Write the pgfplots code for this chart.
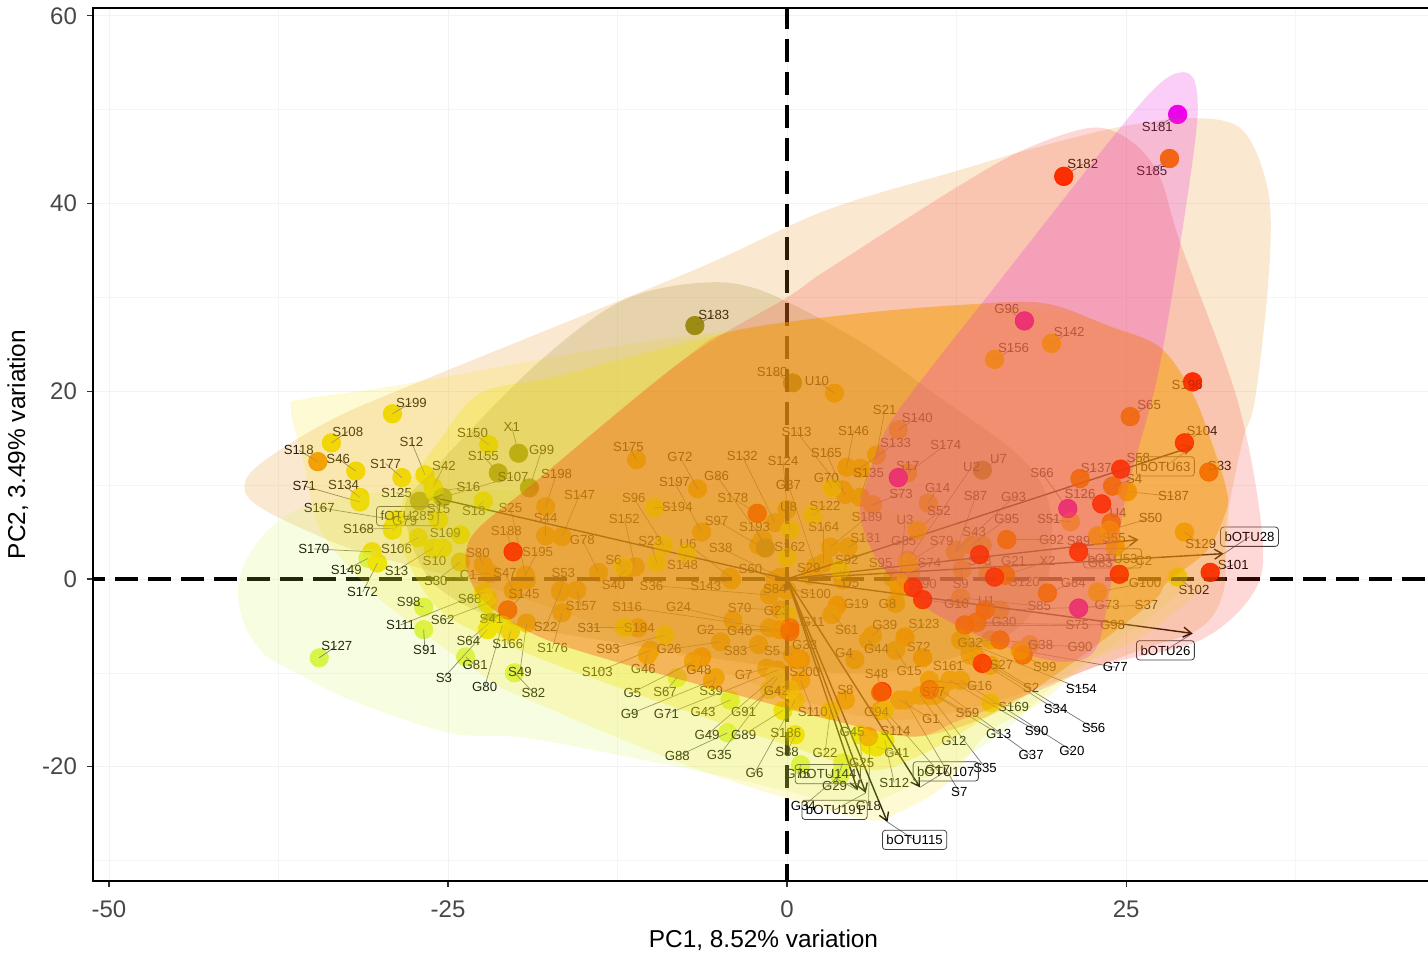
\documentclass[border=0pt]{standalone}
\usepackage{fontspec}
\setmainfont{Liberation Sans}
\usepackage{pgfplots}
\usepackage{pgfplotstable}
\pgfplotsset{compat=1.18}
\usetikzlibrary{arrows.meta}
\definecolor{cL}{HTML}{D9F54A}
\definecolor{cY}{HTML}{F2E200}
\definecolor{cA}{HTML}{F5BE00}
\definecolor{cO}{HTML}{F59A00}
\definecolor{cD}{HTML}{F56A00}
\definecolor{cR}{HTML}{FF2A00}
\definecolor{cP}{HTML}{EE1F82}
\definecolor{cM}{HTML}{EE00EE}
\definecolor{cV}{HTML}{8F8F10}
\definecolor{hPeach}{RGB}{235,140,20}
\definecolor{hLime}{RGB}{205,245,70}
\definecolor{hYel}{RGB}{245,230,40}
\definecolor{hTan}{RGB}{150,130,30}
\definecolor{hYe2}{RGB}{240,225,10}
\definecolor{hOra}{RGB}{245,125,0}
\definecolor{hRed}{RGB}{245,40,30}
\definecolor{hMag}{RGB}{230,30,220}
\pgfplotstableread{
name g x y lx ly
S199 Y -29.1 17.6 -27.7 18.8
S108 Y -33.6 14.5 -32.4 15.7
S118 O -34.6 12.5 -36.0 13.7
S46 Y -31.8 11.5 -33.1 12.8
S12 Y -26.7 11.1 -27.7 14.6
S177 Y -28.4 10.8 -29.6 12.3
S42 Y -26.1 9.8 -25.3 12.0
S71 Y -31.5 8.2 -35.6 9.9
S134 Y -31.5 8.7 -32.7 10.0
S125 V -27.1 8.3 -28.8 9.2
S16 Y -26.0 9.3 -23.5 9.8
S107 V -25.4 8.7 -20.2 10.9
S155 V -21.3 11.3 -22.4 13.1
S150 Y -22.0 14.3 -23.2 15.6
X1 V -19.8 13.4 -20.3 16.2
G99 V -19.0 9.7 -18.1 13.7
S198 A -17.8 7.7 -17.0 11.2
S15 Y -25.7 6.3 -25.7 7.5
S18 Y -22.4 8.3 -23.1 7.2
S25 A -19.2 -0.1 -20.4 7.6
S167 Y -28.9 6.3 -34.5 7.6
G79 Y -29.1 5.2 -28.2 6.2
S168 Y -29.1 5.4 -31.6 5.3
S109 Y -24.1 4.7 -25.2 4.9
S106 Y -27.2 4.4 -28.8 3.2
S170 Y -30.6 2.9 -34.9 3.2
S149 L -30.9 2.2 -32.5 1.0
S172 Y -30.2 1.7 -31.3 -1.4
S13 Y -26.1 3.3 -28.8 0.9
S10 Y -25.4 3.3 -26.0 1.9
S30 A -24.1 1.8 -25.9 -0.2
C1 A -21.9 0.6 -23.5 0.4
S47 A -20.2 -1.2 -20.8 0.6
S80 A -22.4 1.5 -22.8 2.8
S188 R -20.2 2.9 -20.7 5.1
S195 A -19.3 0.4 -18.4 2.9
S53 A -16.7 -1.4 -16.5 0.6
S145 D -20.6 -3.3 -19.4 -1.6
S68 Y -22.1 -2.0 -23.4 -2.1
S98 L -26.8 -3.0 -27.9 -2.5
S111 Y -22.4 -1.4 -28.5 -4.9
S91 L -26.8 -5.4 -26.7 -7.6
S62 Y -22.1 -2.6 -25.4 -4.4
S64 Y -21.9 -4.6 -23.5 -6.6
S41 V -21.8 -4.6 -21.8 -4.3
G81 L -23.7 -8.3 -23.0 -9.2
S3 Y -22.1 -5.4 -25.3 -10.5
G80 Y -21.0 -4.9 -22.3 -11.5
S166 A -20.4 -5.6 -20.6 -6.9
S127 L -34.5 -8.4 -33.2 -7.1
S49 A -19.2 -4.7 -19.7 -9.9
S82 L -20.1 -10.0 -18.7 -12.1
S22 A -16.7 -1.2 -17.8 -5.1
S176 A -16.6 -3.6 -17.3 -7.4
S157 A -15.5 -1.2 -15.2 -2.9
S44 A -17.8 4.6 -17.8 6.5
S147 A -16.6 4.5 -15.3 9.0
S175 A -11.1 12.7 -11.7 14.1
G72 A -6.6 9.6 -7.9 13.0
S197 A -6.3 5.0 -8.3 10.3
S194 Y -9.8 7.6 -8.1 7.7
S96 Y -9.1 3.6 -11.3 8.6
S152 A -11.2 1.3 -12.0 6.4
G78 A -13.9 0.7 -15.1 4.2
S23 Y -9.6 1.7 -10.1 4.0
S6 Y -12.1 1.3 -12.8 2.0
S40 A -11.9 1.0 -12.8 -0.6
S36 A -1.3 -1.7 -10.0 -0.7
S143 A -4.1 -0.1 -6.0 -0.7
S148 Y -7.4 2.8 -7.7 1.5
U6 A -4.2 0.2 -7.3 3.7
S97 A -2.1 3.6 -5.2 6.2
S38 A -0.5 0.2 -4.9 3.3
S60 A -0.9 -0.1 -2.7 1.1
G86 A -1.8 4.2 -5.2 11.0
S132 A -0.9 6.0 -3.3 13.1
S178 D -2.2 7.0 -4.0 8.6
S193 V -1.6 3.3 -2.4 5.5
S162 Y 0.0 2.3 0.2 3.4
S124 A 0.0 7.4 -0.3 12.6
S113 A 4.3 9.0 0.7 15.7
S180 V 0.4 20.9 -1.1 22.1
U10 A 3.5 19.8 2.2 21.1
S21 A 6.6 13.2 7.2 18.0
S146 A 4.4 11.9 4.9 15.8
S140 A 8.2 15.9 9.6 17.2
S133 A 5.4 11.8 8.0 14.5
S174 A 8.9 11.3 11.7 14.3
S165 A 4.1 9.5 2.9 13.4
S135 A 5.4 8.7 6.0 11.3
S17 P 8.2 10.8 8.9 12.0
G70 Y 3.3 9.7 2.9 10.8
S73 A 6.3 7.9 8.4 9.1
S122 Y 1.9 6.8 2.8 7.8
G87 A 2.1 1.3 0.1 10.0
U8 Y 0.2 5.2 0.1 7.7
S164 A 2.7 1.7 2.7 5.5
S189 A 3.2 3.4 5.9 6.6
S131 A 4.5 3.4 5.8 4.4
S92 A 4.1 -0.1 4.4 2.0
S29 A 1.7 0.4 1.6 1.2
G85 O 8.3 -0.9 8.6 4.0
U3 O 8.3 -0.4 8.7 6.3
G14 A 10.4 8.1 11.1 9.7
S52 O 9.6 5.2 11.2 7.2
S79 O 8.9 1.7 11.4 4.0
S95 A 7.8 0.1 6.9 1.7
S74 A 9.1 0.6 10.5 1.7
S190 R 9.3 -0.9 9.9 -0.5
S87 A 12.5 3.1 13.9 8.8
G93 A 12.4 2.9 16.7 8.7
G95 A 13.6 3.6 16.2 6.4
S43 A 14.4 3.6 13.8 5.0
U2 A 8.9 2.0 13.6 11.9
U7 V 14.4 11.6 15.6 12.8
G92 D 16.2 4.2 19.5 4.2
S78 R 14.2 2.6 14.2 1.9
G21 A 14.8 0.6 16.7 1.9
X2 D 16.1 0.4 19.2 1.9
S9 A 12.9 1.0 12.8 -0.5
S120 R 15.3 0.2 17.5 -0.3
U5 Y 3.9 1.0 4.7 -0.4
S84 A 0.0 -1.2 -0.9 -1.1
S100 A -0.5 -0.9 2.1 -1.6
G19 O 3.7 -2.8 5.1 -2.7
G8 A 8.0 -2.6 7.4 -2.7
G10 R 10.0 -2.2 12.5 -2.7
U1 D 14.6 -3.3 14.7 -2.3
S85 A 12.8 -2.0 18.6 -2.9
G23 Y 0.0 -3.8 -0.8 -3.4
S70 A -0.5 -3.3 -3.5 -3.1
G24 A -4.0 -4.4 -8.0 -3.0
S116 A -1.3 -5.2 -11.8 -3.0
G11 D 0.2 -5.2 1.9 -4.6
S184 A -11.0 -5.2 -10.9 -5.2
S31 Y -12.0 -5.2 -14.6 -5.2
G2 O -0.5 -5.4 -6.0 -5.4
G40 D 0.2 -5.6 -3.5 -5.5
S61 A 3.3 -3.8 4.4 -5.4
G39 A 6.3 -6.0 7.2 -4.9
S123 O 8.7 -6.2 10.1 -4.8
G30 D 14.0 -4.6 16.0 -4.6
S75 D 13.1 -4.9 21.4 -4.9
G98 A 13.9 -4.7 24.0 -4.9
G73 P 21.5 -3.1 23.6 -2.8
G84 D 19.2 -1.5 21.1 -0.4
G100 O 22.9 -1.4 26.4 -0.4
S37 A 15.7 -3.3 26.5 -2.8
S89 R 21.5 2.9 21.5 4.0
S55 O 22.9 4.6 24.1 4.4
G83 O 24.2 3.4 23.1 1.7
C2 R 24.5 0.5 26.3 1.9
S66 P 20.7 7.5 18.8 11.3
S51 A 20.9 6.1 19.3 6.4
S126 R 23.2 8.0 21.6 9.1
U4 D 23.9 6.0 24.4 7.0
S50 O 23.8 5.2 26.8 6.5
S137 D 21.6 10.7 22.8 11.8
S4 D 24.0 9.9 25.6 10.7
S58 R 24.6 11.7 25.9 12.9
S187 O 25.1 9.3 28.5 8.8
S65 D 25.3 17.3 26.7 18.5
S104 R 29.3 14.5 30.6 15.8
S33 D 31.1 11.4 31.9 12.0
S129 A 29.3 5.0 30.5 3.7
S101 R 31.2 0.7 32.9 1.5
S102 Y 28.8 0.2 30.0 -1.2
S196 R 29.9 21.0 29.5 20.7
S181 M 28.8 49.5 27.3 48.2
S185 D 28.2 44.8 26.9 43.5
S182 R 20.4 42.9 21.8 44.2
G96 P 17.5 27.5 16.2 28.8
S142 O 19.5 25.1 20.8 26.3
S156 O 15.3 23.4 16.7 24.6
S183 V -6.8 27.0 -5.4 28.1
S5 A 0.4 -8.1 -1.1 -7.7
S83 A -2.1 -7.0 -3.8 -7.7
G26 A -4.9 -6.7 -8.7 -7.5
S93 Y -9.0 -6.0 -13.2 -7.5
G48 O -6.3 -8.3 -6.5 -9.7
G46 A -10.3 -8.1 -10.6 -9.6
S103 A -10.1 -7.6 -14.0 -9.9
G7 A -1.5 -9.5 -3.2 -10.2
S39 A -5.3 -10.5 -5.6 -11.9
G5 A -6.9 -8.8 -11.4 -12.1
S67 L -8.1 -10.5 -9.0 -12.0
G42 Y 0.2 -11.8 -0.8 -11.9
G9 A -5.5 -10.8 -11.6 -14.4
G71 A -0.7 -9.7 -8.9 -14.4
G43 L -4.2 -12.9 -6.2 -14.2
G91 L -1.3 -11.8 -3.2 -14.2
S110 A 1.0 -10.8 1.9 -14.2
G49 L -0.9 -10.4 -5.9 -16.6
G89 Y -0.3 -14.0 -3.2 -16.6
S186 A -0.1 -11.8 -0.1 -16.4
G88 L -4.4 -16.4 -8.1 -18.9
G35 L -0.7 -10.5 -5.0 -18.8
S88 Y 0.6 -16.6 0.0 -18.4
G6 Y 0.6 -12.9 -2.4 -20.7
G22 Y 3.2 -14.0 2.8 -18.5
G75 L 1.0 -19.8 0.8 -20.8
G29 L 4.1 -19.6 3.5 -22.1
G34 L 3.9 -20.9 1.2 -24.2
G25 Y 5.4 -16.6 5.5 -19.6
G18 Y 6.1 -17.7 6.0 -24.2
S112 Y 7.2 -17.2 7.9 -21.7
S48 R 7.0 -12.0 6.6 -10.1
S8 A 4.3 -12.9 4.3 -11.8
G94 D 6.9 -12.1 6.6 -14.2
S200 O 0.7 -8.6 1.3 -9.9
G33 O 1.0 -8.6 1.3 -7.0
G4 A 5.0 -8.6 4.2 -7.9
G44 A 6.0 -6.5 6.6 -7.5
S72 O 10.0 -8.4 9.7 -7.2
G15 A 8.0 -7.6 9.0 -9.8
S161 O 13.9 -8.3 11.9 -9.3
G32 A 15.0 -6.5 13.5 -6.8
S27 R 14.4 -9.0 15.8 -9.2
G38 D 15.7 -6.5 18.7 -7.0
G90 A 17.9 -7.0 21.6 -7.2
S99 D 17.4 -8.1 19.0 -9.4
G77 O 17.2 -7.6 24.2 -9.4
G16 A 10.5 -10.8 14.2 -11.4
S2 A 13.5 -7.6 18.0 -11.6
S154 A 12.8 -6.5 21.7 -11.7
S77 D 10.5 -11.8 10.8 -12.0
S169 Y 15.0 -13.2 16.7 -13.6
S59 A 10.6 -12.0 13.3 -14.3
S34 A 13.5 -8.1 19.8 -13.9
S56 A 15.0 -9.2 22.6 -15.9
G1 A 8.3 -12.9 10.6 -14.9
G13 A 10.9 -12.4 15.6 -16.5
S90 A 12.0 -10.8 18.4 -16.2
G12 A 9.8 -12.4 12.3 -17.3
G20 A 12.8 -10.8 21.0 -18.3
G37 A 11.3 -11.8 18.0 -18.8
S35 A 10.5 -12.4 14.6 -20.1
S7 A 8.7 -12.9 12.7 -22.7
S114 A 6.9 -14.0 8.0 -16.2
G41 Y 6.6 -17.9 8.1 -18.5
G45 O 6.0 -16.8 4.8 -16.3
G17 Y 7.2 -14.0 11.1 -20.4
}\samples
\pgfplotstableread{
name zero x y lx ly
bOTU63 0 29.9 14.1 27.9 12.0
bOTU28 0 32.2 2.7 34.1 4.5
bOTU53 0 25.9 4.2 24.0 2.2
bOTU26 0 29.9 -5.8 27.9 -7.6
bOTU115 0 7.4 -25.9 9.4 -27.8
bOTU191 0 5.8 -22.8 3.5 -24.6
bOTU144 0 5.2 -22.5 3.0 -20.8
bOTU107 0 9.8 -22.2 11.7 -20.5
fOTU285 0 -26.1 8.7 -28.0 6.7
}\loadings
\pgfplotsset{
  pointclasses/.style={scatter, only marks, scatter src=explicit symbolic, mark size=4.6pt,
    scatter/classes={
      L={mark=*,draw=cL,fill=cL},Y={mark=*,draw=cY,fill=cY},A={mark=*,draw=cA,fill=cA},
      O={mark=*,draw=cO,fill=cO},D={mark=*,draw=cD,fill=cD},R={mark=*,draw=cR,fill=cR},
      P={mark=*,draw=cP,fill=cP},M={mark=*,draw=cM,fill=cM},V={mark=*,draw=cV,fill=cV}}},
  strongclasses/.style={scatter, only marks, scatter src=explicit symbolic, mark size=4.6pt,
    scatter/classes={
      L={mark=*,opacity=0,draw=cL,fill=cL},Y={mark=*,opacity=0.2,draw=cY,fill=cY},A={mark=*,opacity=0,draw=cA,fill=cA},
      V={mark=*,opacity=0,draw=cV,fill=cV},
      O={mark=*,opacity=0.4,draw=cO,fill=cO},D={mark=*,opacity=0.6,draw=cD,fill=cD},R={mark=*,opacity=0.7,draw=cR,fill=cR},
      P={mark=*,opacity=0.65,draw=cP,fill=cP},M={mark=*,opacity=0.4,draw=cM,fill=cM}}},
  hull/.style={draw=none, mark=none, forget plot, smooth cycle, tension=0.55}
}
\begin{document}
\begin{tikzpicture}
\path[use as bounding box] (0,0) rectangle (714pt,478pt);
\begin{axis}[
  at={(46.5pt,37.5pt)}, anchor=south west, scale only axis,
  width=672.5pt, height=436.5pt,
  xmin=-51.18, xmax=48.0, ymin=-32.18, ymax=60.84,
  clip mode=individual,
  xtick={-50,-25,0,25}, xticklabels={-50,-25,0,25},
  ytick={-20,0,20,40,60}, yticklabels={-20,0,20,40,60},
  minor xtick={-37.5,-12.5,12.5,37.5}, minor ytick={-30,-10,10,30,50},
  grid=both, major grid style={gray!10,line width=0.4pt}, minor grid style={gray!8,line width=0.3pt},
  tick align=outside, tick pos=left, major tick length=3pt, minor tick length=0pt,
  tick style={black!80,line width=0.6pt},
  axis line style={line width=1.2pt},
  ticklabel style={font=\fontsize{12}{14}\selectfont, text=black!72},
  xticklabel style={yshift=-3.5pt},
  yticklabel style={xshift=-1.5pt},
  every axis x label/.style={at={(axis description cs:0.4985,-0.0676)},anchor=center,font=\fontsize{12.2}{15}\selectfont},
  every axis y label/.style={at={(axis description cs:-0.0558,0.5)},rotate=90,anchor=center,font=\fontsize{12.2}{15}\selectfont},
  xlabel={\fontsize{12.2}{15}\selectfont PC1, 8.52\% variation}, ylabel={\fontsize{12.2}{15}\selectfont PC2, 3.49\% variation},
  nodes near coords style={font=\fontsize{6.6}{8}\selectfont, anchor=center, inner sep=0pt, text=black},
]
% points, below the hulls
\addplot[pointclasses,forget plot] table[x=x,y=y,meta=g]{\samples};
% connectors
\addplot[black!55,line width=0.35pt,mark=none,forget plot,
  quiver={u=\thisrow{lx}-\thisrow{x},v=\thisrow{ly}-\thisrow{y}}] table[x=x,y=y]{\samples};
\addplot[black!55,line width=0.35pt,mark=none,forget plot,
  quiver={u=\thisrow{lx}-\thisrow{x},v=\thisrow{ly}-\thisrow{y}}] table[x=x,y=y]{\loadings};
% loading arrows
\addplot[black,line width=0.7pt,mark=none,forget plot,
  quiver={u=\thisrow{x},v=\thisrow{y},every arrow/.append style={-{Straight Barb[length=4pt,width=5pt]}}}]
  table[x=zero,y=zero]{\loadings};
% sample labels
\addplot[draw=none,mark=none,forget plot,nodes near coords,point meta=explicit symbolic]
  table[x=lx,y=ly,meta=name]{\samples};
% boxed labels
\addplot[draw=none,mark=none,forget plot,nodes near coords,point meta=explicit symbolic,
  nodes near coords style={draw=black!75,line width=0.4pt,rounded corners=1.5pt,inner xsep=2pt,inner ysep=2.4pt,
    font=\fontsize{6.6}{8}\selectfont,anchor=center,text=black}]
  table[x=lx,y=ly,meta=name]{\loadings};
% zero lines
\addplot[black,line width=1.7pt,dash pattern=on 11.5pt off 5pt,forget plot] coordinates {(-52,0)(48,0)};
\addplot[black,line width=1.7pt,dash pattern=on 11.5pt off 5pt,forget plot] coordinates {(0,61)(0,-33)};
% hulls
\addplot[hull,fill=hPeach,fill opacity=0.2] coordinates {(-40.0,9.5)(-39.0,12.1)(-33.7,16.9)(-26.8,21.2)(-6.9,32.9)(2.9,39.3)(12.8,43.6)(17.7,45.7)(24.3,48.1)(29.9,49.1)(33.6,47.8)(35.5,41.1)(35.5,31.9)(34.5,19.1)(33.6,14.8)(32.4,6.0)(32.2,-1.2)(30.5,-5.2)(26.0,-7.6)(15.7,-12.9)(8.3,-15.0)(1.0,-12.9)(-10.8,-6.5)(-21.2,-1.2)(-30.8,2.6)(-34.4,4.5)(-38.6,7.4)};
\addplot[hull,fill=hLime,fill opacity=0.16] coordinates {(-40.5,-1.2)(-40.0,-4.9)(-38.5,-8.1)(-35.9,-10.2)(-32.2,-12.9)(-24.9,-16.4)(-19.4,-16.9)(-12.3,-18.8)(-3.5,-21.4)(1.0,-23.0)(4.6,-24.1)(6.9,-23.5)(11.3,-20.4)(15.7,-16.6)(20.1,-10.8)(24.5,-6.5)(29.0,-1.2)(28.2,2.0)(15.7,5.2)(1.0,8.4)(-21.2,9.5)(-28.5,9.5)(-35.2,7.9)(-38.2,5.3)(-39.9,2.0)};
\addplot[hull,fill=hYel,fill opacity=0.2] coordinates {(-36.6,18.3)(-35.5,19.2)(-28.5,20.7)(-12.3,24.9)(-4.0,26.5)(5.4,28.3)(15.7,29.1)(23.1,27.4)(28.2,23.3)(32.1,11.6)(32.3,2.0)(29.7,-2.2)(25.8,-6.5)(22.1,-9.0)(18.7,-13.2)(14.8,-16.4)(11.7,-21.9)(8.3,-24.8)(5.4,-25.5)(-6.4,-20.4)(-19.0,-12.9)(-21.9,-10.8)(-28.8,-3.6)(-31.1,-0.6)(-34.4,5.2)(-35.7,12.7)};
\addplot[hull,fill=hTan,fill opacity=0.2] coordinates {(-28.2,7.4)(-26.1,11.6)(-18.7,22.6)(-12.5,29.4)(-6.9,31.5)(-2.0,30.8)(5.4,25.3)(10.5,20.1)(17.2,13.0)(19.4,7.4)(19.0,-1.2)(15.7,-6.5)(8.3,-9.7)(1.0,-9.7)(-13.8,-6.5)(-21.2,-4.4)(-26.3,-0.1)};
\addplot[hull,fill=hYe2,fill opacity=0.3] coordinates {(-28.6,4.2)(-28.0,9.5)(-25.6,14.8)(-22.6,19.8)(-16.7,21.7)(-4.0,26.4)(5.4,28.3)(12.8,29.2)(18.9,29.4)(23.8,26.9)(27.5,24.7)(29.9,19.8)(31.4,14.1)(32.4,9.5)(32.4,7.4)(31.0,3.1)(28.0,-0.4)(26.8,-2.6)(20.1,-9.9)(15.0,-14.5)(9.8,-18.8)(6.1,-20.4)(1.0,-18.2)(-10.8,-12.4)(-19.7,-7.6)(-25.6,-3.3)};
\addplot[hull,fill=hOra,fill opacity=0.23] coordinates {(-23.4,4.2)(-18.7,10.2)(-7.7,23.3)(-4.0,26.4)(5.4,28.3)(12.8,29.2)(18.9,29.4)(23.8,26.9)(27.5,24.7)(29.9,19.8)(31.4,14.1)(32.4,9.5)(32.4,7.4)(31.0,3.1)(28.0,-0.4)(26.8,-2.6)(20.1,-9.9)(15.0,-14.5)(9.3,-16.8)(3.2,-15.0)(-0.5,-13.6)(-14.8,-7.9)(-19.7,-5.1)(-23.0,-1.2)};
\addplot[hull,fill=hRed,fill opacity=0.18] coordinates {(-23.4,4.2)(-18.7,10.2)(-7.7,23.3)(0,30.0)(2.9,32.9)(12.8,42.0)(17.7,45.9)(22.6,48.1)(25.5,46.5)(27.5,42.8)(29.0,35.8)(33.2,19.1)(35.0,5.2)(34.5,-1.2)(30.5,-6.5)(23.1,-9.2)(18.7,-11.8)(12.8,-15.0)(9.3,-16.8)(3.2,-15.0)(-0.5,-13.6)(-14.8,-7.9)(-19.7,-5.1)(-23.0,-1.2)};
\addplot[hull,fill=hMag,fill opacity=0.22] coordinates {(29.2,54.0)(30.1,52.8)(30.2,48.1)(29.0,35.8)(27.3,21.5)(25.1,9.5)(23.8,-1.2)(22.7,-7.6)(20.1,-8.8)(15.7,-7.0)(10.5,-3.3)(6.9,1.5)(5.4,6.6)(5.9,10.5)(7.4,16.2)(10.5,22.3)(14.7,30.0)(24.3,47.6)(27.5,52.8)};
% stronger points, showing through the hulls
\addplot[strongclasses,forget plot] table[x=x,y=y,meta=g]{\samples};
\end{axis}
\end{tikzpicture}
\end{document}
